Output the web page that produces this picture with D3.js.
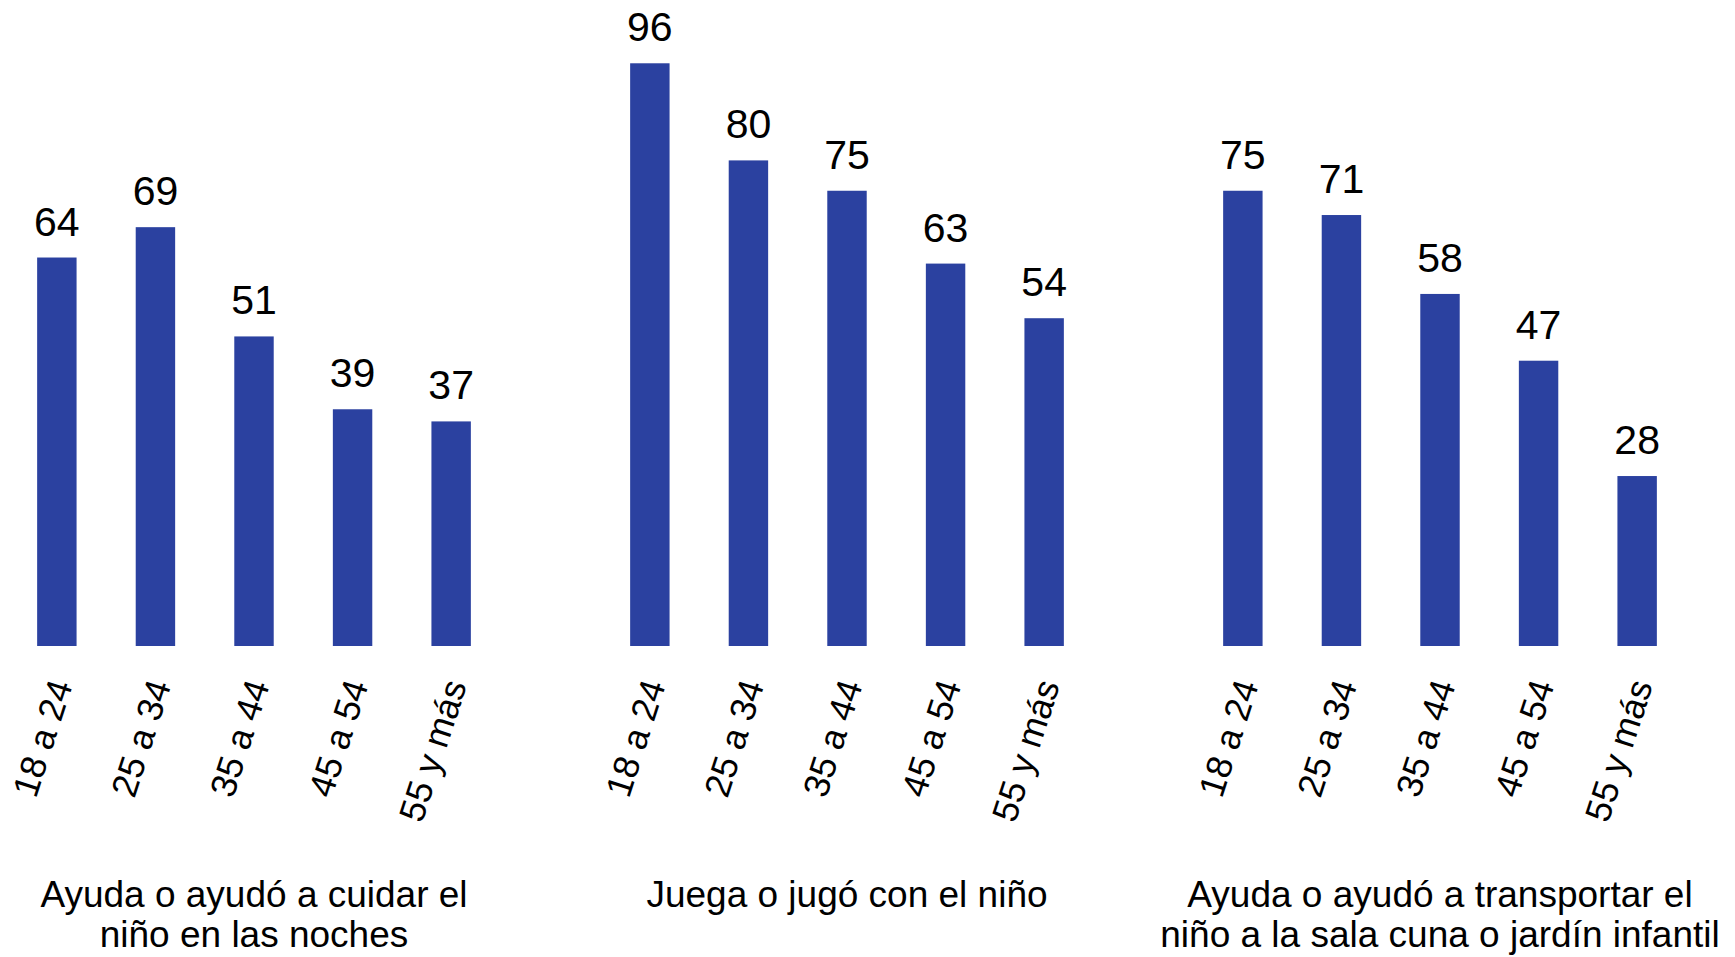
<!DOCTYPE html>
<html>
  <head>
    <meta charset="UTF-8">
    <title>Participación por edad</title>
    <style>
    body {
      margin: 0;
      background: #fff;
    }
    svg {
      display: block;
    }
    text {
      font-family: "Liberation Sans", Arial, sans-serif;
      fill: #000;
    }
    .bar {
      fill: #2b41a0;
    }
    .value {
      font-size: 41px;
      text-anchor: middle;
    }
    .tick-label {
      font-size: 36px;
      text-anchor: end;
    }
    .title {
      font-size: 37px;
      text-anchor: middle;
    }
    </style>
  </head>
  <body>
    <svg width="1735" height="957"></svg>
    <script src="https://d3js.org/d3.v7.min.js"></script>
    <script>
// age groups (x categories, same for every panel)
var ageGroups = ["18 a 24", "25 a 34", "35 a 44", "45 a 54", "55 y más"];

// one series per panel
var cuidarNoches = [64, 69, 51, 39, 37];
var juega = [96, 80, 75, 63, 54];
var transportar = [75, 71, 58, 47, 28];

// panel titles, one entry per line
var titleCuidar = ["Ayuda o ayudó a cuidar el", "niño en las noches"];
var titleJuega = ["Juega o jugó con el niño"];
var titleTransportar = ["Ayuda o ayudó a transportar el", "niño a la sala cuna o jardín infantil"];

var panels = [
  {values: cuidarNoches, title: titleCuidar},
  {values: juega, title: titleJuega},
  {values: transportar, title: titleTransportar}
];

var svg = d3.select("svg"),
    baseline = 646;

// panel centres
var px = d3.scalePoint()
    .domain(d3.range(panels.length))
    .range([254, 1440]);

// bars inside a panel, relative to its centre
var x = d3.scaleBand()
    .domain(ageGroups)
    .range([-276, 276])
    .padding(0.6);

var y = d3.scaleLinear()
    .domain([0, 100])
    .range([baseline, 39]);

var panel = svg.selectAll("g.panel")
  .data(panels)
  .enter().append("g")
    .attr("class", "panel")
    .attr("transform", (d, i) => "translate(" + px(i) + ",0)");

// bars
panel.selectAll("rect.bar")
  .data(d => d.values.map((v, i) => ({key: ageGroups[i], value: v})))
  .enter().append("rect")
    .attr("class", "bar")
    .attr("x", d => x(d.key))
    .attr("y", d => y(d.value))
    .attr("width", x.bandwidth())
    .attr("height", d => baseline - y(d.value));

// value labels on top of bars
panel.selectAll("text.value")
  .data(d => d.values.map((v, i) => ({key: ageGroups[i], value: v})))
  .enter().append("text")
    .attr("class", "value")
    .attr("x", d => x(d.key) + x.bandwidth() / 2)
    .attr("y", d => y(d.value) - 22)
    .text(d => d.value);

// rotated category labels
panel.selectAll("text.tick-label")
  .data(ageGroups)
  .enter().append("text")
    .attr("class", "tick-label")
    .attr("transform", d => "translate(" + (x(d) + x.bandwidth() / 2 + 16) + "," + (baseline + 39) + ") rotate(-72)")
    .text(d => d);

// panel titles
panel.append("text")
    .attr("class", "title")
    .attr("y", 907)
  .selectAll("tspan")
  .data(d => d.title)
  .enter().append("tspan")
    .attr("x", 0)
    .attr("dy", (d, i) => i ? 40 : 0)
    .text(d => d);
    </script>
  </body>
</html>
